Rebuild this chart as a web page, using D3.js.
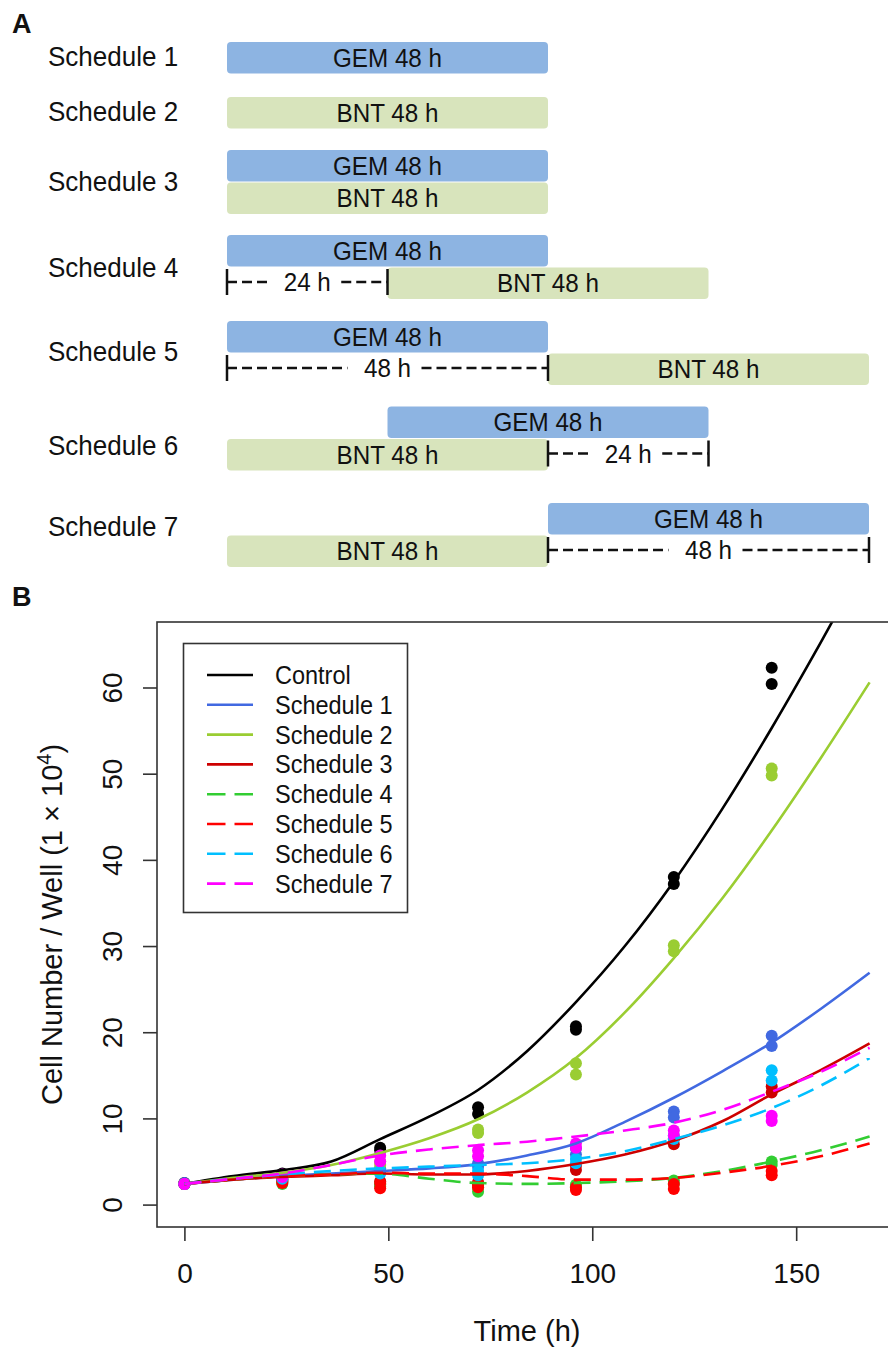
<!DOCTYPE html>
<html>
<head>
<meta charset="utf-8">
<script src="https://cdn.jsdelivr.net/npm/d3@7"></script>
<style>
body { margin: 0; background: #fff; }
svg text { font-family: "Liberation Sans", Arial, sans-serif; fill: #111; }
</style>
</head>
<body>
<svg id="fig" width="888" height="1349"></svg>
<script>
// ---------- panel A data ----------
var schedNames = ["Schedule 1", "Schedule 2", "Schedule 3", "Schedule 4", "Schedule 5", "Schedule 6", "Schedule 7"];
// drug blocks (schedule index, drug, start h, duration h)
var blockSched = [0, 1, 2, 2, 3, 3, 4, 4, 5, 5, 6, 6];
var blockDrug = ["GEM", "BNT", "GEM", "BNT", "GEM", "BNT", "GEM", "BNT", "GEM", "BNT", "GEM", "BNT"];
var blockStart = [0, 0, 0, 0, 0, 24, 0, 48, 24, 0, 48, 0];
var blockHours = [48, 48, 48, 48, 48, 48, 48, 48, 48, 48, 48, 48];
// waiting intervals
var waitSched = [3, 4, 5, 6];
var waitStart = [0, 0, 48, 48];
var waitHours = [24, 48, 24, 48];

// ---------- panel B data ----------
var seriesNames = ["Control", "Schedule 1", "Schedule 2", "Schedule 3", "Schedule 4", "Schedule 5", "Schedule 6", "Schedule 7"];
var fitTimes = [0, 12, 24, 36, 48, 60, 72, 84, 96, 108, 120, 132, 144, 156, 168];
var fitControl = [2.4, 3.3, 4.0, 5.0, 7.6, 10.2, 13.3, 17.8, 23.5, 30.0, 37.5, 46.0, 55.3, 65.2, 75.5];
var fitS1 = [2.4, 2.9, 3.3, 3.6, 3.9, 4.2, 4.7, 5.7, 7.1, 9.6, 12.4, 15.5, 18.8, 22.7, 26.9];
var fitS2 = [2.4, 3.1, 3.7, 4.6, 6.0, 7.7, 9.9, 13.0, 17.0, 22.3, 28.6, 35.6, 43.4, 51.8, 60.6];
var fitS3 = [2.4, 2.9, 3.2, 3.4, 3.6, 3.5, 3.5, 3.9, 4.7, 5.8, 7.4, 9.7, 12.8, 15.6, 18.7];
var fitS4 = [2.4, 2.9, 3.3, 3.5, 3.6, 3.0, 2.5, 2.4, 2.5, 2.7, 3.1, 3.9, 5.0, 6.3, 7.9];
var fitS5 = [2.4, 2.9, 3.3, 3.5, 3.7, 3.6, 3.6, 3.3, 2.9, 2.9, 3.1, 3.7, 4.5, 5.6, 7.1];
var fitS6 = [2.4, 3.0, 3.5, 3.9, 4.2, 4.4, 4.6, 4.8, 5.3, 6.2, 7.6, 9.2, 11.2, 13.8, 17.0];
var fitS7 = [2.4, 3.0, 3.6, 4.6, 5.7, 6.4, 6.9, 7.3, 7.9, 8.6, 9.5, 11.0, 13.1, 15.4, 18.2];

var obsTimes = [0, 24, 48, 72, 96, 120, 144];
var obsControl = [[2.5, 2.4], [3.6, 3.4], [6.6, 6.3], [11.3, 10.5], [20.7, 20.3], [38.0, 37.2], [62.3, 60.4]];
var obsS1 = [[2.5, 2.4], [3.1, 2.9], [4.2, 3.9], [4.8, 4.4], [6.5, 5.8], [10.8, 10.1], [19.6, 18.4]];
var obsS2 = [[2.4, 2.4], [3.2, 3.0], [5.0, 4.6], [8.7, 8.3], [16.4, 15.1], [30.1, 29.4], [50.6, 49.8]];
var obsS3 = [[2.4, 2.4], [2.9, 2.7], [2.7, 2.3], [2.6, 2.2], [4.5, 4.0], [7.6, 7.0], [13.7, 13.0]];
var obsS4 = [[2.4, 2.4], [2.6, 2.4], [2.4, 2.1], [2.0, 1.5], [2.3, 2.1], [2.8, 2.4], [5.0, 4.6]];
var obsS5 = [[2.4, 2.4], [2.8, 2.5], [2.5, 1.9], [2.4, 2.0], [2.0, 1.7], [2.4, 1.8], [3.9, 3.4]];
var obsS6 = [[2.4, 2.4], [3.2, 3.0], [3.9, 3.6], [3.9, 3.4], [5.3, 4.8], [8.0, 7.6], [15.6, 14.4]];
var obsS7 = [[2.4, 2.4], [3.5, 3.2], [5.7, 5.0], [6.3, 5.6], [7.1, 6.6], [8.6, 8.0], [10.3, 9.7]];

var xTicks = [0, 50, 100, 150];
var yTicks = [0, 10, 20, 30, 40, 50, 60];

// ---------- styles / layout ----------
var fits = [fitControl, fitS1, fitS2, fitS3, fitS4, fitS5, fitS6, fitS7];
var obs = [obsControl, obsS1, obsS2, obsS3, obsS4, obsS5, obsS6, obsS7];
var seriesColors = ["#000000", "#4169e1", "#9acd32", "#cd0000", "#32cd32", "#ff0000", "#00bfff", "#ff00ff"];
var seriesDashed = [false, false, false, false, true, true, true, true];
var drugColors = { GEM: "#8db4e2", BNT: "#d8e4bc" };

var rowTop = [42, 97, 150, 235, 321, 406.5, 503];
var labelMid = [56, 111, 181, 267, 351, 445, 526];
var laneH = 32.5, barH = 31.5;
var blockLane = [0, 0, 0, 1, 0, 1, 0, 1, 0, 1, 0, 1];

var svg = d3.select("#fig");
svg.append("rect").attr("width", 888).attr("height", 1349).attr("fill", "#fff");

function addText(parent, x, y, str, size, anchor, squeeze) {
	return parent.append("text")
		.attr("transform", "translate(" + x + "," + y + ") scale(" + (squeeze || 1) + ",1)")
		.attr("font-size", size + "px")
		.attr("text-anchor", anchor || "start")
		.text(str);
}

// ================= panel A =================
addText(svg, 12, 33, "A", 27).attr("font-weight", "bold");

var tA = d3.scaleLinear().domain([0, 96]).range([227, 869]);
var gA = svg.append("g");

schedNames.forEach(function(name, i) {
	addText(gA, 48, labelMid[i] + 10, name, 28, "start", 0.93);
});

blockSched.forEach(function(s, i) {
	var top = rowTop[s] + blockLane[i] * laneH;
	var x0 = tA(blockStart[i]), x1 = tA(blockStart[i] + blockHours[i]);
	gA.append("rect")
		.attr("x", x0).attr("y", top)
		.attr("width", x1 - x0).attr("height", barH)
		.attr("rx", 4).attr("ry", 4)
		.attr("fill", drugColors[blockDrug[i]]);
	addText(gA, (x0 + x1) / 2, top + barH / 2 + 9, blockDrug[i] + " " + blockHours[i] + " h", 25, "middle", 0.97);
});

waitSched.forEach(function(s, i) {
	var yy = rowTop[s] + laneH + 14.5;
	var x0 = tA(waitStart[i]), x1 = tA(waitStart[i] + waitHours[i]);
	var mid = (x0 + x1) / 2, half = 40;
	addText(gA, mid, yy + 9, waitHours[i] + " h", 25, "middle", 0.97);
	[[x0, mid - half], [mid + half - 6, x1]].forEach(function(seg) {
		gA.append("line")
			.attr("x1", seg[0]).attr("x2", seg[1])
			.attr("y1", yy).attr("y2", yy)
			.attr("stroke", "#111").attr("stroke-width", 2.5)
			.attr("stroke-dasharray", "10,5");
	});
	[x0, x1].forEach(function(xx) {
		gA.append("line")
			.attr("x1", xx).attr("x2", xx)
			.attr("y1", yy - 13).attr("y2", yy + 13)
			.attr("stroke", "#111").attr("stroke-width", 2.5);
	});
});

// ================= panel B =================
addText(svg, 12, 606, "B", 27).attr("font-weight", "bold");

var x = d3.scaleLinear().domain([-6.72, 174.72]).range([157, 897]);
var y = d3.scaleLinear().domain([-2.6, 67.6]).range([1227, 622]);

svg.append("clipPath").attr("id", "plotclip")
	.append("rect")
	.attr("x", x.range()[0]).attr("y", y.range()[1])
	.attr("width", x.range()[1] - x.range()[0])
	.attr("height", y.range()[0] - y.range()[1]);

var gB = svg.append("g");
var plot = gB.append("g").attr("clip-path", "url(#plotclip)");

// points
obs.forEach(function(rows, si) {
	var pts = [];
	rows.forEach(function(reps, ti) {
		reps.forEach(function(v) { pts.push([obsTimes[ti], v]); });
	});
	plot.selectAll(".pt" + si)
		.data(pts)
		.enter()
		.append("circle")
		.attr("class", "pt" + si)
		.attr("cx", function(d) { return x(d[0]); })
		.attr("cy", function(d) { return y(d[1]); })
		.attr("r", 6)
		.attr("fill", seriesColors[si]);
});

// fitted curves
var line = d3.line()
	.x(function(d, i) { return x(fitTimes[i]); })
	.y(function(d) { return y(d); })
	.curve(d3.curveMonotoneX);

fits.forEach(function(vals, si) {
	plot.append("path")
		.attr("d", line(vals))
		.attr("fill", "none")
		.attr("stroke", seriesColors[si])
		.attr("stroke-width", 2.6)
		.attr("stroke-dasharray", seriesDashed[si] ? "17,9" : null);
});

// box
gB.append("rect")
	.attr("x", x.range()[0]).attr("y", y.range()[1])
	.attr("width", x.range()[1] - x.range()[0])
	.attr("height", y.range()[0] - y.range()[1])
	.attr("fill", "none").attr("stroke", "#333").attr("stroke-width", 1.6);

// axes
var xAxis = gB.append("g")
	.attr("transform", "translate(0," + y.range()[0] + ")")
	.call(d3.axisBottom(x).tickValues(xTicks).tickSize(14).tickPadding(22));
var yAxis = gB.append("g")
	.attr("transform", "translate(" + x.range()[0] + ",0)")
	.call(d3.axisLeft(y).tickValues(yTicks).tickSize(14));

[xAxis, yAxis].forEach(function(ax) {
	ax.select(".domain").remove();
	ax.selectAll(".tick line").attr("stroke", "#333").attr("stroke-width", 1.6);
	ax.selectAll(".tick text")
		.attr("font-size", "28px")
		.attr("fill", "#111")
		.style("font-family", "'Liberation Sans', Arial, sans-serif");
});
yAxis.selectAll(".tick text")
	.attr("x", null).attr("dy", null)
	.attr("text-anchor", "middle")
	.attr("transform", "translate(-35,0) rotate(-90)");

// axis titles
var midX = (x.range()[0] + x.range()[1]) / 2;
addText(gB, midX, 1341, "Time (h)", 29, "middle");
var yt = gB.append("text")
	.attr("transform", "translate(62," + ((y.range()[0] + y.range()[1]) / 2) + ") rotate(-90)")
	.attr("font-size", "29px")
	.attr("text-anchor", "middle");
yt.append("tspan").text("Cell Number / Well (1 \u00d7 10");
yt.append("tspan").attr("font-size", "20px").attr("dy", "-11").text("4");
yt.append("tspan").attr("dy", "11").text(")");

// legend
var lg = gB.append("g");
lg.append("rect")
	.attr("x", 183.5).attr("y", 643.5)
	.attr("width", 224).attr("height", 269)
	.attr("fill", "#fff").attr("stroke", "#333").attr("stroke-width", 1.6);

seriesNames.forEach(function(name, i) {
	var ly = 675 + i * 29.8;
	lg.append("line")
		.attr("x1", 207).attr("x2", 253)
		.attr("y1", ly).attr("y2", ly)
		.attr("stroke", seriesColors[i])
		.attr("stroke-width", 2.6)
		.attr("stroke-dasharray", seriesDashed[i] ? "18.5,9" : null);
	addText(lg, 275, ly + 9, name, 25, "start", 0.94);
});
</script>
</body>
</html>
